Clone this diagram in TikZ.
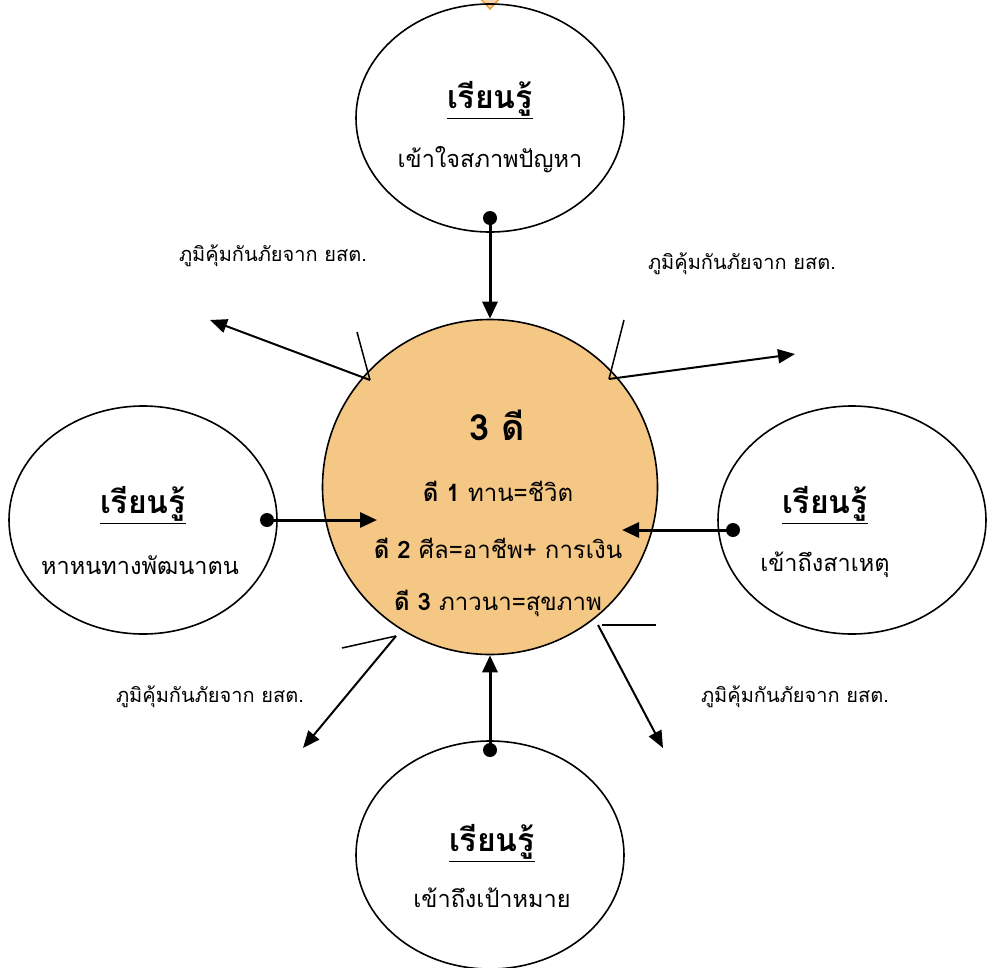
\documentclass[tikz,border=0pt]{standalone}
\usepackage{fontspec}
\setmainfont[Script=Thai]{Loma}
\usetikzlibrary{arrows.meta,shapes.geometric}

\definecolor{deeorange}{HTML}{F5C785}
\definecolor{tipfill}{HTML}{F9D3A8}
\definecolor{tipdraw}{HTML}{E79B38}

\tikzset{
  learnbox/.style={draw, line width=1.6pt, ellipse, minimum width=268pt, minimum height=228pt, inner sep=0pt},
  learnhead/.style={font=\fontsize{32}{36}\selectfont\bfseries},
  learntext/.style={font=\fontsize{23.5}{26}\selectfont},
  immune/.style={font=\fontsize{20}{23}\selectfont},
  deeline/.style={font=\fontsize{24}{28}\selectfont},
  joindot/.style={circle, fill, inner sep=0pt, minimum size=14pt},
  mainarrow/.style={-{Triangle[length=17pt,width=15pt]}, line width=3pt},
  sidearrow/.style={-{Triangle[length=17pt,width=14pt]}, line width=2pt},
}

\begin{document}
\begin{tikzpicture}[x=1pt, y=-1pt]
    \useasboundingbox (0,0) rectangle (991,967);

    % --- Mitte: 3 ดี ---
    \node[circle, draw, line width=1.6pt, fill=deeorange, minimum size=335pt, inner sep=0pt] (dee) at (490,487) {};
    \node[font=\fontsize{36}{40}\selectfont\bfseries] (deetitle) at (497,425) {3 ดี};
    \node[deeline] (dee1) at (498,491) {\textbf{ดี 1} ทาน=ชีวิต};
    \node[deeline] (dee2) at (498,548) {\textbf{ดี 2} ศีล=อาชีพ+ การเงิน};
    \node[deeline] (dee3) at (498,603) {\textbf{ดี 3} ภาวนา=สุขภาพ};

    % --- Ellipsen: เรียนรู้ ---
    \fill[tipfill, draw=tipdraw, line width=1.5pt] (478,-4) -- (502,-4) -- (490,9) -- cycle;
    \node[learnbox] (top) at (490,118) {};
    \node[learnhead] (tophead) at (490,100) {\underline{เรียนรู้}};
    \node[learntext] (toptext) at (490,160) {เข้าใจสภาพปัญหา};

    \node[learnbox] (left) at (143,520) {};
    \node[learnhead] (lefthead) at (143,505) {\underline{เรียนรู้}};
    \node[learntext] (lefttext) at (140,565) {หาหนทางพัฒนาตน};

    \node[learnbox] (right) at (852,520) {};
    \node[learnhead] (righthead) at (825,505) {\underline{เรียนรู้}};
    \node[learntext] (righttext) at (825,565) {เข้าถึงสาเหตุ};

    \node[learnbox] (bottom) at (490,855) {};
    \node[learnhead] (bottomhead) at (492,843) {\underline{เรียนรู้}};
    \node[learntext] (bottomtext) at (492,898) {เข้าถึงเป้าหมาย};

    % --- Pfeile zur Mitte ---
    \node[joindot] (topdot) at (490,218) {};
    \draw[mainarrow] (topdot.center) -- (dee.north);
    \node[joindot] (leftdot) at (267,520) {};
    \draw[mainarrow] (leftdot.center) -- (377,520);
    \node[joindot] (rightdot) at (733,530) {};
    \draw[mainarrow] (rightdot.center) -- (622,530);
    \node[joindot] (bottomdot) at (490,750) {};
    \draw[mainarrow] (bottomdot.center) -- (dee.south);

    % --- ภูมิคุ้มกัน ---
    \node[immune] (immTL) at (273,256) {ภูมิคุ้มกันภัยจาก ยสต.};
    \node[immune] (immTR) at (742,264) {ภูมิคุ้มกันภัยจาก ยสต.};
    \node[immune] (immBL) at (210,697) {ภูมิคุ้มกันภัยจาก ยสต.};
    \node[immune] (immBR) at (795,697) {ภูมิคุ้มกันภัยจาก ยสต.};

    \coordinate (cTL) at (370,380);
    \draw[sidearrow] (cTL) -- (210,320);
    \draw[line width=1.5pt] (cTL) -- (357,332);
    \coordinate (cTR) at (609,379);
    \draw[sidearrow] (cTR) -- (795,354);
    \draw[line width=1.5pt] (cTR) -- (624,320);
    \coordinate (cBL) at (396,636);
    \draw[sidearrow] (cBL) -- (303,748);
    \draw[line width=1.5pt] (cBL) -- (342,648);
    \coordinate (cBR) at (598,625);
    \draw[sidearrow] (cBR) -- (663,748);
    \draw[line width=1.5pt] (602,625) -- (656,625);
\end{tikzpicture}
\end{document}
